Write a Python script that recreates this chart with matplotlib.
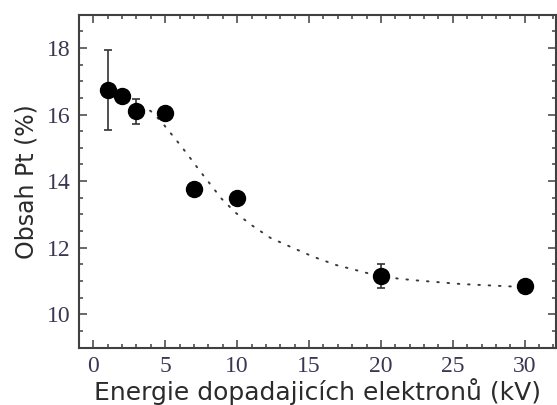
import numpy as np
import matplotlib
matplotlib.use("Agg")
import matplotlib.pyplot as plt
from matplotlib.ticker import MultipleLocator

# 测量数据
energie = [1, 2, 3, 5, 7, 10, 20, 30]
obsah = [16.75, 16.55, 16.1, 16.05, 13.76, 13.48, 11.15, 10.85]
chyba = [1.2, 0.0, 0.37, 0.0, 0.0, 0.15, 0.37, 0.08]

# 拟合曲线（从图上读取的点）
fit_x = [3.3, 3.6, 4.0, 4.7, 5.3, 5.9, 6.5, 7.4, 8.0, 8.9, 9.9, 11.0,
         12.3, 13.7, 15.3, 16.9, 18.7, 20.0, 22.2, 25.6, 29.0, 30.0]
fit_y = [16.25, 16.2, 16.1, 15.8, 15.48, 15.16, 14.83, 14.31, 13.98, 13.48,
         13.05, 12.68, 12.3, 12.03, 11.73, 11.48, 11.28, 11.13, 11.03, 10.91,
         10.84, 10.83]

xticks = [0, 5, 10, 15, 20, 25, 30]
yticks = [10, 12, 14, 16, 18]

tick_color = "#3b3653"
line_color = "#3a3a3a"

fig = plt.figure(figsize=(5.57, 4.05), dpi=100)
ax = fig.add_axes([0.1418, 0.1415, 0.857, 0.8225])

ax.plot(fit_x, fit_y, color=line_color, lw=1.4, dashes=(0.8, 4.5),
        dash_capstyle="round", zorder=1)
ax.errorbar(energie, obsah, yerr=chyba, fmt="o", color="black", ms=11.5,
            ecolor="#333333", elinewidth=1.2, capsize=3, capthick=1.2,
            zorder=3)

ax.set_xlim(-1, 32.2)
ax.set_ylim(9, 19)
ax.set_xticks(xticks)
ax.set_yticks(yticks)
ax.xaxis.set_minor_locator(MultipleLocator(1))
ax.yaxis.set_minor_locator(MultipleLocator(0.5))

ax.tick_params(which="both", direction="in", top=True, right=True,
               color="#404040", width=1.1)
ax.tick_params(which="major", length=6, pad=6, labelsize=17,
               labelcolor=tick_color)
ax.tick_params(which="minor", length=3)
for lab in ax.get_xticklabels() + ax.get_yticklabels():
    lab.set_family("Liberation Serif")

for s in ax.spines.values():
    s.set_color("#404040")
    s.set_linewidth(1.5)

ax.set_xlabel("Energie dopadajicích elektronů (kV)", fontsize=18,
              color="#2b2b2b", labelpad=1)
ax.set_ylabel("Obsah Pt (%)", fontsize=17, color="#2b2b2b", labelpad=6)

fig.savefig("out.png", dpi=100)
